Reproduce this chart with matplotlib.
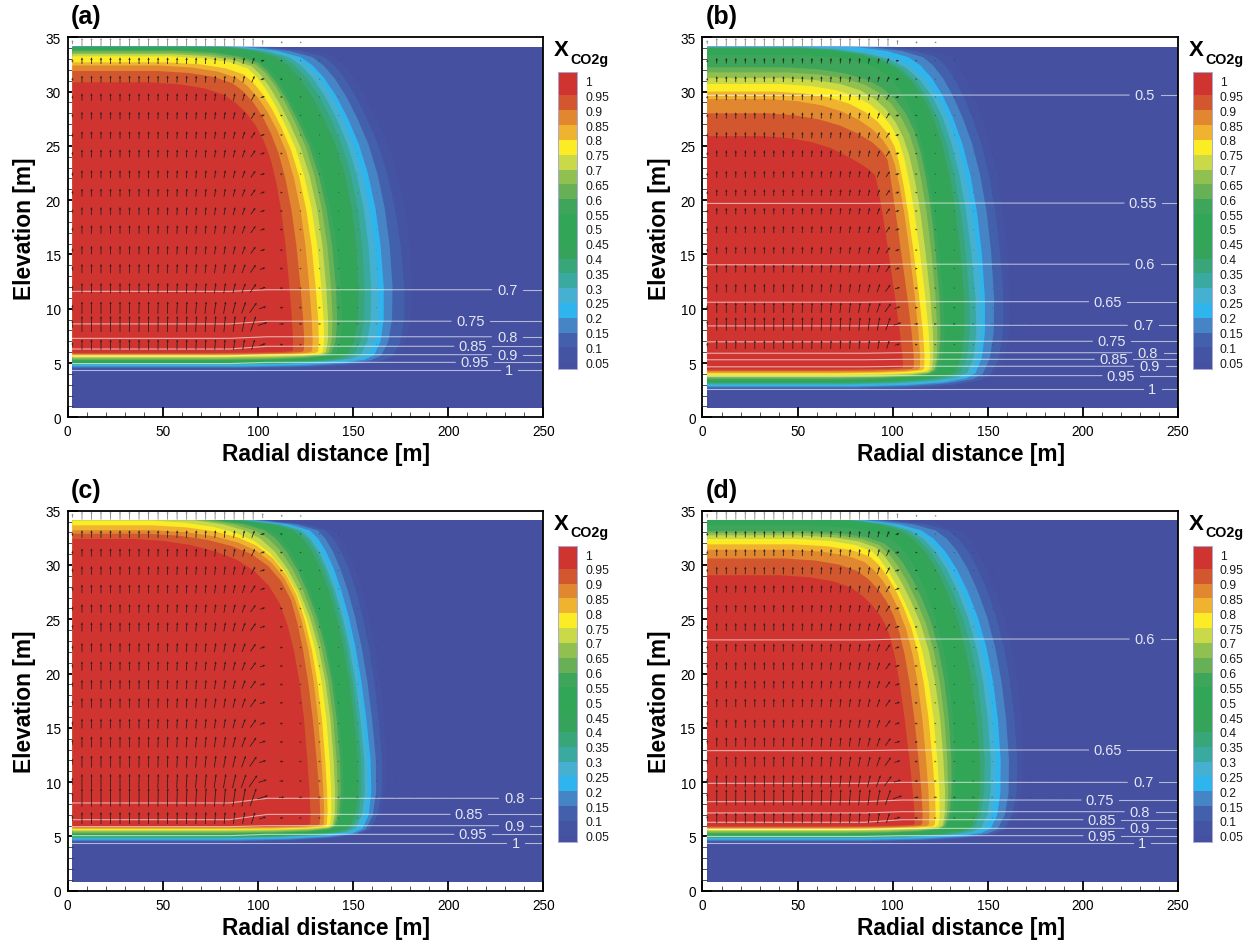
# Four CO2 gas fraction maps: filled bands, velocity arrows and white pressure isolines.
import numpy as np
import matplotlib
matplotlib.use("Agg")
import matplotlib.pyplot as plt

plt.rcParams["font.family"] = ["Liberation Sans", "DejaVu Sans"]

W, H = 1255, 945

# colour bands, from the top of the colour bar down
LEVELS = [0.95, 0.9, 0.85, 0.8, 0.75, 0.7, 0.65, 0.6, 0.55, 0.5,
          0.45, 0.4, 0.35, 0.3, 0.25, 0.2, 0.15, 0.1, 0.05]
BAND_COLORS = ["#CF3430", "#D2572F", "#E0872F", "#EFB330", "#FBEC26", "#C9D948", "#90C050",
               "#68B055", "#3EA65A", "#30A656", "#32A656", "#35A45A", "#38A678", "#3AAAA0",
               "#45B0D0", "#2EB5EE", "#4585C5", "#4360AD", "#4553A3", "#4550A0"]
CBAR_LABELS = ["1", "0.95", "0.9", "0.85", "0.8", "0.75", "0.7", "0.65", "0.6", "0.55", "0.5",
               "0.45", "0.4", "0.35", "0.3", "0.25", "0.2", "0.15", "0.1", "0.05"]

R_MIN, R_MAX, Z_MIN, Z_MAX = 2.45, 250, 0.83, 34.13
MID_Z = 21.5

# per level: elevation of the flat top, r where it bends, r 3 m below the top,
# r at mid height, r at the base of the front
A_TOP = [30.85, 31.9, 32.4, 32.7, 33.25, 33.45, 33.6, 33.77, 33.85, 33.97, 34.05, 34.3, 34.3, 34.3, 34.3, 34.3, 34.3, 34.3, 34.3]
A_KNEE = [72, 78, 80, 85, 88, 90, 92, 93, 95, 97, 98, 100, 103, 107, 110, 113, 120, 127, 134]
A_SH = [98, 100.8, 103, 105, 106, 108, 111, 112, 113.5, 116, 121, 125, 129, 132, 136, 138, 143, 148, 152]
A_MID = [111.6, 117, 122, 125, 128, 131, 133.5, 136, 138, 143, 147, 150, 153, 156, 158.5, 162, 167, 172, 178]
A_LOW = [119.5, 125.6, 130, 133.5, 136.5, 138.8, 141.4, 144, 147, 151, 153, 154.6, 158, 161.6, 166, 168.6, 173, 180, 183]

B_TOP = [25.9, 28, 29.3, 30, 30.7, 31.25, 31.77, 32.23, 33.4, 33.7, 33.9, 34, 34.05, 34.1, 34.13, 34.3, 34.3, 34.3, 34.3]
B_KNEE = [55, 58, 60, 65, 69, 72, 74, 74, 81, 81, 79.3, 81, 83, 85.5, 90, 98.6, 108, 116, 125]
B_SH = [89, 96, 95, 97.7, 99.5, 101, 104, 106.5, 107, 110, 112.6, 115, 117, 119.6, 122, 124, 129, 134.5, 140]
B_MID = [92.5, 99.5, 104.7, 106.5, 110, 113.5, 117, 119.6, 121, 125.7, 129.3, 132.8, 135.4, 138, 141.5, 144.2, 149.4, 153.8, 158]
B_LOW = [106.5, 112.6, 115.8, 118.4, 121.4, 123.5, 125.8, 127.5, 130, 137, 138.5, 140.3, 143.3, 146.8, 149.4, 151, 155.6, 160.8, 164]

C_TOP = [32.4, 32.88, 33.2, 33.65, 34.08, 34.3, 34.3, 34.3, 34.3, 34.3, 34.3, 34.3, 34.3, 34.3, 34.3, 34.3, 34.3, 34.3, 34.3]
C_KNEE = [60, 70, 75, 75, 74, 81, 88, 95, 98.5, 104, 107, 111, 114, 116, 118, 121, 125.6, 129, 133.5]
C_SH = [105.5, 112.5, 113.4, 114, 112.5, 113.4, 116, 118, 120, 124.8, 128, 131, 133, 134.4, 136, 138, 141.4, 146, 149.3]
C_MID = [121.6, 125.7, 129, 131, 133.5, 135.6, 137, 138.8, 139.7, 143, 145, 147.6, 149.3, 150.7, 152.5, 153.7, 157, 160.7, 164]
C_LOW = [128.6, 134, 136, 138, 140.2, 142.3, 144, 145.8, 147.6, 152.8, 154, 155.5, 157.2, 159, 160.7, 162.5, 165, 168, 170]

D_TOP = [29.05, 30.6, 31.4, 31.9, 32.4, 32.73, 32.95, 33.13, 33.65, 33.96, 34.3, 34.3, 34.3, 34.3, 34.3, 34.3, 34.3, 34.3, 34.3]
D_KNEE = [69, 72, 77.6, 81, 82.8, 84.6, 86, 88, 91.6, 93, 91.6, 94, 96.8, 99.5, 102, 105.6, 114, 121.4, 129]
D_SH = [93, 96, 97.7, 99.5, 99.5, 102, 104.7, 108, 111, 113.5, 118, 120.5, 123, 125.8, 128, 131, 137, 142.4, 146.8]
D_MID = [102.5, 108, 112.6, 115.8, 118.7, 122.3, 124.9, 127.5, 130, 135.4, 139, 141.5, 145, 147.7, 150.3, 153, 157.3, 161.7, 166]
D_LOW = [112.6, 117, 120.5, 124, 126.3, 129.3, 131, 132.8, 134.5, 144, 146.8, 148.5, 150.3, 153.8, 156.4, 159, 163.4, 167.8, 170.4]

# elevation of the flat underside of each band, and how far before the front it starts to rise
BOT_ACD = [5.93, 5.84, 5.77, 5.68, 5.59, 5.5, 5.38, 5.28, 5.2, 5.1, 5.04, 4.98, 4.9, 4.85, 4.8, 4.7, 4.6, 4.52, 4.4]
BOT_B = [4.39, 4.27, 4.14, 4.05, 3.9, 3.77, 3.65, 3.53, 3.43, 3.34, 3.27, 3.2, 3.12, 3.04, 2.95, 2.85, 2.75, 2.6, 2.5]
BOT_GAP = [3, 4, 4, 5, 6, 8, 11, 14, 16, 18, 19, 20, 20, 20, 20, 20, 22, 25, 28]

# isolines: label, z left of the kink, z right of it, r of the label
A_ISO_LABEL = ["0.7", "0.75", "0.8", "0.85", "0.9", "0.95", "1"]
A_ISO_LEFT = [11.6, 8.6, 7.27, 6.29, 5.65, 4.95, 4.33]
A_ISO_RIGHT = [11.75, 8.85, 7.42, 6.54, 5.77, 5.06, 4.33]
A_ISO_R = [231, 211.6, 231, 213, 231, 213.8, 232]

B_ISO_LABEL = ["0.5", "0.55", "0.6", "0.65", "0.7", "0.75", "0.8", "0.85", "0.9", "0.95", "1"]
B_ISO_LEFT = [29.65, 19.7, 14.05, 10.6, 8.42, 6.95, 5.9, 5.3, 4.65, 3.8, 2.58]
B_ISO_RIGHT = [29.68, 19.73, 14.1, 10.65, 8.47, 7.0, 5.95, 5.34, 4.7, 3.84, 2.58]
B_ISO_R = [232.6, 231.6, 232.6, 213, 231.6, 215, 234, 216, 235, 220, 236.5]

C_ISO_LABEL = ["0.8", "0.85", "0.9", "0.95", "1"]
C_ISO_LEFT = [8.08, 6.54, 5.9, 5.07, 4.39]
C_ISO_RIGHT = [8.51, 7.03, 5.99, 5.19, 4.39]
C_ISO_R = [234.8, 211, 234.8, 213, 235.5]

D_ISO_LABEL = ["0.6", "0.65", "0.7", "0.75", "0.8", "0.85", "0.9", "0.95", "1"]
D_ISO_LEFT = [23.1, 12.9, 9.89, 8.2, 7.16, 6.3, 5.65, 5.0, 4.36]
D_ISO_RIGHT = [23.18, 12.96, 9.98, 8.35, 7.28, 6.54, 5.74, 5.07, 4.36]
D_ISO_R = [232.6, 213, 231.6, 209, 230, 210, 230, 210, 231]

# velocity arrows: lengths in pixels, tilt from vertical in degrees
ARROW_R = [2.5, 7.5, 12.5, 17.5, 22.5, 27.5, 32.5, 37.5, 42.5, 47.5, 52.5, 57.5, 62.5, 67.5, 72.5, 77.5, 82.5,
           87.5, 92.5, 97.5, 102.5, 112.5, 122.5, 132.5, 142.5, 152.5, 162.5, 172.5, 182.5, 192.5, 202.5,
           212.5, 222.5, 232.5, 242.5]
ARROW_TILT = [0, 0, 0, 0, 0, 0, 0, 1, 1, 2, 2, 3, 4, 5, 6, 8, 10,
              14, 20, 35, 72, 85, 88, 88, 88, 88, 88, 88, 88, 88, 88,
              88, 88, 88, 88]
ARROW_FADE = [0.5, 1, 1, 1, 1, 1, 1, 1, 1, 1, 1, 1, 1, 1, 1, 1, 1,
              1, 1, 1, 0.6, 0.3, 0.22, 0.2, 0.18, 0.16, 0.14, 0.12, 0.1, 0.1, 0.1,
              0.08, 0.08, 0.08, 0.08]
ARROW_ALPHA = [0.8, 1, 1, 1, 1, 1, 1, 1, 1, 1, 1, 1, 1, 1, 1, 1, 1,
               1, 1, 1, 1, 0.9, 0.7, 0.55, 0.4, 0.3, 0.25, 0.18, 0.12, 0.1, 0.1,
               0.08, 0.08, 0.08, 0.08]
ARROW_Z = [32.85, 31.15, 29.5, 27.8, 26, 24.3, 22.4, 20.7, 19, 17.3, 15.4, 13.7, 11.9, 10.1, 8.6, 6.7]
ARROW_LEN = [7, 7.5, 8, 8, 8, 8.5, 8.5, 8.5, 8.5, 9, 9, 10, 11, 13, 17, 11]
ARROW_ROW_TILT = [0.6, 0.7, 0.8, 0.9, 1, 1, 1, 1, 1, 1, 1, 1, 1, 1, 0.55, 0.5]
ROOF_Z = 34.55
ROOF_LEN = 8

PANEL_TAGS = ["(a)", "(b)", "(c)", "(d)"]
ARROW_GAIN = [0.95, 0.8, 1.1, 0.95]
BOX_X = [67.7, 702.5, 67.7, 702.5]
BOX_Y = [38.3, 38.3, 511.7, 511.7]
BOX_W, BOX_H = 475.6, 380


def chaikin(pts, n=2):
    # rounds the polygon corners but leaves both ends where they are
    pts = np.asarray(pts, dtype=float)
    for _ in range(n):
        q = [pts[0]]
        for a, b in zip(pts[:-1], pts[1:]):
            q.append(0.75 * a + 0.25 * b)
            q.append(0.25 * a + 0.75 * b)
        q.append(pts[-1])
        pts = np.array(q)
    return pts


def draw_bands(ax, top, knee, sh, mid, low, bot):
    low_z = bot[0] + 0.4
    ax.fill([R_MIN, R_MAX, R_MAX, R_MIN], [Z_MIN, Z_MIN, Z_MAX, Z_MAX],
            color=BAND_COLORS[-1], lw=0, zorder=1)
    for i in range(len(LEVELS) - 1, -1, -1):
        outline = [(-5, bot[i]), (low[i] - BOT_GAP[i], bot[i]), (low[i], low_z),
                   (mid[i], MID_Z), (sh[i], top[i] - 3), (knee[i], top[i]), (-5, top[i])]
        pts = chaikin(outline)
        r = np.clip(pts[:, 0], R_MIN, R_MAX)
        z = np.clip(pts[:, 1], Z_MIN, Z_MAX)
        ax.fill(r, z, color=BAND_COLORS[i], lw=0, zorder=2)


def draw_arrows(ax, gain):
    rr = np.array(ARROW_R, dtype=float)
    tilt = np.radians(ARROW_TILT)
    fade = np.array(ARROW_FADE)
    colors = [(0.16, 0.12, 0.12, a) for a in ARROW_ALPHA]
    for z, ln, rt in zip(ARROW_Z, ARROW_LEN, ARROW_ROW_TILT):
        a = tilt * rt
        a[rr > 100] = tilt[rr > 100]
        u = ln * gain * fade * np.sin(a)
        v = ln * gain * fade * np.cos(a)
        ax.quiver(rr, np.full(rr.shape, z), u, v, angles="uv", scale_units="dots", scale=1, units="dots",
                  width=0.8, headwidth=3.0, headlength=3.4, headaxislength=3.0, minlength=0.3,
                  pivot="mid", color=colors, zorder=4)
    # the row above the domain is only thin grey stems
    keep = rr < 130
    ax.quiver(rr[keep], np.full(keep.sum(), ROOF_Z), np.zeros(keep.sum()), ROOF_LEN * fade[keep],
              angles="uv", scale_units="dots", scale=1, units="dots", width=0.9, headwidth=2.5,
              headlength=2, headaxislength=2, minlength=0.3, pivot="mid", color="#8a8a8a", zorder=4)


def draw_isolines(ax, labels, left, right, rlab):
    for lab, zl, zr, rl in zip(labels, left, right, rlab):
        half = (3.2 + 3.3 * len(lab)) / 1.902 + 1.5
        ax.plot([R_MIN, 85, 105, rl - half], [zl, zl, zr, zr], color="white", lw=0.8, alpha=0.6, zorder=3)
        ax.plot([rl + half, R_MAX], [zr, zr], color="white", lw=0.8, alpha=0.6, zorder=3)
        ax.text(rl, zr, lab, ha="center", va="center", color="#e4e6f2", fontsize=10.5, zorder=5)


def draw_colorbar(fig, x0, y0):
    # x0, y0 = top left corner of the panel box
    cb = fig.add_axes([(x0 + 490) / W, 1 - (y0 + 331.7) / H, 19 / W, 296.7 / H])
    edges = np.array(LEVELS[::-1] + [1.0])
    lo = 0.0274
    hi = 1.028
    bounds = np.concatenate([[lo], edges[:-1], [hi]])
    cb.pcolormesh([0, 1], bounds, np.arange(20).reshape(-1, 1),
                  cmap=matplotlib.colors.ListedColormap(BAND_COLORS[::-1]), shading="flat")
    cb.set_xticks([])
    cb.set_ylim(lo, hi)
    cb.set_yticks(np.arange(1, 21) * 0.05)
    cb.set_yticklabels(CBAR_LABELS[::-1], fontsize=8.7, color="#1a1a1a")
    cb.yaxis.tick_right()
    cb.tick_params(axis="y", length=0, pad=6)
    for s in cb.spines.values():
        s.set_color("#a9a9d6")
        s.set_linewidth(0.7)
    fig.text((x0 + 486.5) / W, 1 - (y0 + 18) / H, "X", fontsize=16, fontweight="bold", ha="left", va="baseline")
    fig.text((x0 + 503) / W, 1 - (y0 + 25.5) / H, "CO2g", fontsize=10.3, fontweight="bold", ha="left", va="baseline")


def panel(fig, k, top, knee, sh, mid, low, bot, iso):
    x0, y0 = BOX_X[k], BOX_Y[k]
    ax = fig.add_axes([x0 / W, 1 - (y0 + BOX_H) / H, BOX_W / W, BOX_H / H])
    ax.set_xlim(0, 250)
    ax.set_ylim(0, 35)
    draw_bands(ax, top, knee, sh, mid, low, bot)
    draw_isolines(ax, *iso)
    draw_arrows(ax, ARROW_GAIN[k])
    ax.set_xticks(np.arange(0, 251, 50))
    ax.set_yticks(np.arange(0, 36, 5))
    ax.set_xticks(np.arange(0, 251, 10), minor=True)
    ax.set_yticks(np.arange(0, 36, 1), minor=True)
    ax.tick_params(which="major", direction="in", length=7.2, width=1.3, labelsize=9.8, pad=5, color="black")
    ax.tick_params(which="minor", direction="in", length=3.6, width=0.6, color="#333333")
    for s in ax.spines.values():
        s.set_linewidth(1.3)
        s.set_zorder(6)
    # the x title sits right of the panel centre in the source figure
    ax.set_xlabel("Radial distance [m]", fontsize=16.4, fontweight="bold", labelpad=3, x=0.543)
    ax.set_ylabel("Elevation [m]", fontsize=16.4, fontweight="bold", labelpad=7)
    fig.text((x0 + 3) / W, 1 - (y0 - 21) / H, PANEL_TAGS[k], fontsize=18, fontweight="bold", ha="left", va="center")
    draw_colorbar(fig, x0, y0)


fig = plt.figure(figsize=(W / 100, H / 100), dpi=100)
panel(fig, 0, A_TOP, A_KNEE, A_SH, A_MID, A_LOW, BOT_ACD, (A_ISO_LABEL, A_ISO_LEFT, A_ISO_RIGHT, A_ISO_R))
panel(fig, 1, B_TOP, B_KNEE, B_SH, B_MID, B_LOW, BOT_B, (B_ISO_LABEL, B_ISO_LEFT, B_ISO_RIGHT, B_ISO_R))
panel(fig, 2, C_TOP, C_KNEE, C_SH, C_MID, C_LOW, BOT_ACD, (C_ISO_LABEL, C_ISO_LEFT, C_ISO_RIGHT, C_ISO_R))
panel(fig, 3, D_TOP, D_KNEE, D_SH, D_MID, D_LOW, BOT_ACD, (D_ISO_LABEL, D_ISO_LEFT, D_ISO_RIGHT, D_ISO_R))
fig.savefig("out.png", dpi=100)
